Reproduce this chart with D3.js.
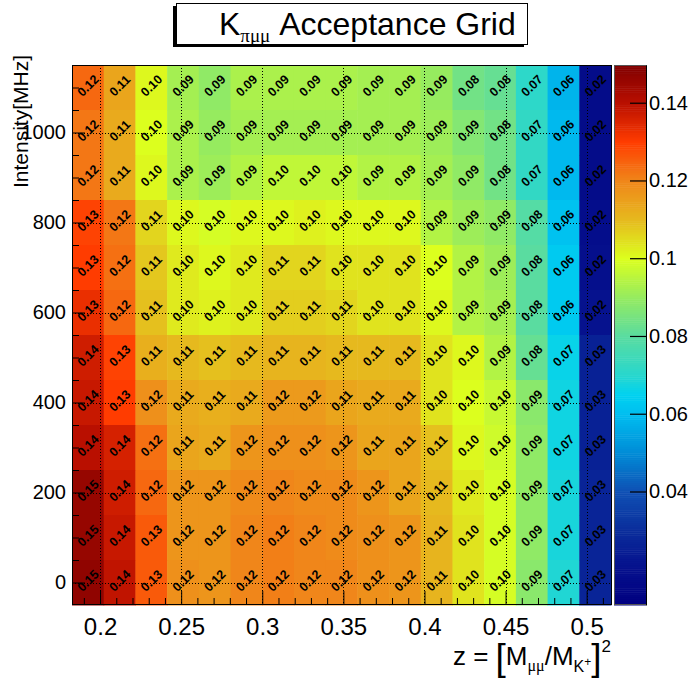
<!DOCTYPE html>
<html>
<head>
<meta charset="utf-8">
<script src="https://cdn.jsdelivr.net/npm/d3@7"></script>
<style>
  body { margin: 0; background: #fff; }
  svg { display: block; }
  text { font-family: "Liberation Sans", Arial, Helvetica, sans-serif; }
</style>
</head>
<body>
<svg id="chart" width="690" height="678"></svg>
<script>
// ---- binning ----
const zRange = [0.1827, 0.5150];          // z = (M_mumu / M_K)^2 axis range
const zBinCount = 17;
const intensityRange = [-50, 1150];       // MHz
const intensityRows = [1100, 1000, 900, 800, 700, 600, 500, 400, 300, 200, 100, 0];
const intensityBinWidth = 100;

// ---- acceptance per intensity row (one value per z bin) ----
const acc1100 = [0.124, 0.114, 0.101, 0.092, 0.089, 0.093, 0.093, 0.093, 0.093, 0.092, 0.092, 0.090, 0.084, 0.082, 0.071, 0.058, 0.018];
const acc1000 = [0.122, 0.113, 0.100, 0.093, 0.090, 0.092, 0.092, 0.092, 0.092, 0.092, 0.092, 0.091, 0.087, 0.084, 0.072, 0.059, 0.018];
const acc900  = [0.122, 0.113, 0.101, 0.093, 0.091, 0.094, 0.096, 0.096, 0.096, 0.094, 0.094, 0.092, 0.089, 0.084, 0.072, 0.059, 0.018];
const acc800  = [0.129, 0.122, 0.106, 0.101, 0.099, 0.101, 0.101, 0.102, 0.101, 0.101, 0.101, 0.094, 0.091, 0.089, 0.079, 0.061, 0.019];
const acc700  = [0.130, 0.123, 0.108, 0.103, 0.101, 0.103, 0.106, 0.106, 0.104, 0.104, 0.104, 0.100, 0.094, 0.091, 0.080, 0.063, 0.020];
const acc600  = [0.133, 0.124, 0.109, 0.103, 0.102, 0.103, 0.107, 0.107, 0.106, 0.104, 0.104, 0.101, 0.094, 0.092, 0.080, 0.063, 0.021];
const acc500  = [0.137, 0.129, 0.112, 0.110, 0.109, 0.110, 0.111, 0.111, 0.110, 0.110, 0.110, 0.104, 0.101, 0.094, 0.082, 0.066, 0.026];
const acc400  = [0.138, 0.130, 0.118, 0.113, 0.112, 0.113, 0.116, 0.116, 0.114, 0.113, 0.113, 0.104, 0.100, 0.097, 0.088, 0.067, 0.026];
const acc300  = [0.140, 0.136, 0.123, 0.114, 0.113, 0.117, 0.118, 0.118, 0.117, 0.114, 0.114, 0.109, 0.101, 0.098, 0.089, 0.067, 0.026];
const acc200  = [0.146, 0.137, 0.124, 0.117, 0.117, 0.119, 0.120, 0.119, 0.119, 0.117, 0.114, 0.110, 0.103, 0.099, 0.089, 0.068, 0.027];
const acc100  = [0.146, 0.138, 0.126, 0.117, 0.117, 0.120, 0.121, 0.120, 0.119, 0.118, 0.117, 0.111, 0.104, 0.099, 0.089, 0.068, 0.027];
const acc0    = [0.147, 0.139, 0.126, 0.118, 0.117, 0.120, 0.121, 0.120, 0.120, 0.118, 0.117, 0.111, 0.104, 0.099, 0.088, 0.069, 0.027];
const acceptanceRows = [acc1100, acc1000, acc900, acc800, acc700, acc600, acc500, acc400, acc300, acc200, acc100, acc0];

// ---- axis ticks ----
const zMajorTicks = [0.2, 0.25, 0.3, 0.35, 0.4, 0.45, 0.5];
const zMinorTicks = [0.19, 0.21, 0.22, 0.23, 0.24, 0.26, 0.27, 0.28, 0.29, 0.31, 0.32, 0.33, 0.34,
                     0.36, 0.37, 0.38, 0.39, 0.41, 0.42, 0.43, 0.44, 0.46, 0.47, 0.48, 0.49, 0.51];
const intensityMajorTicks = [0, 200, 400, 600, 800, 1000];
const intensityMinorTicks = [50, 100, 150, 250, 300, 350, 450, 500, 550, 650, 700, 750,
                             850, 900, 950, 1050, 1100];
const colorTicks = [0.04, 0.06, 0.08, 0.1, 0.12, 0.14];

// ---- palette ----
const colorRange = [0.0108, 0.1497];
const paletteStops  = [0.0108, 0.02, 0.03, 0.04, 0.05, 0.06, 0.065, 0.07, 0.08, 0.09, 0.10, 0.11, 0.12, 0.13, 0.14, 0.1497];
const paletteColors = ["#000080", "#050f8c", "#0a2d9b", "#0f50b4", "#008cd7", "#00bef0", "#00d2f0", "#28d7cd",
                       "#5adca0", "#96eb5f", "#dcff1e", "#e6b91e", "#f0861a", "#ff3c00", "#b90f00", "#800000"];

// ---- layout ----
const frame = { left: 72, right: 611, top: 65, bottom: 605 };
const bar = { left: 614, right: 646 };

const svg = d3.select("#chart");

const x = d3.scaleLinear().domain(zRange).range([frame.left, frame.right]);
const y = d3.scaleLinear().domain(intensityRange).range([frame.bottom, frame.top]);
const color = d3.scaleLinear().domain(paletteStops).range(paletteColors)
  .interpolate(d3.interpolateRgb).clamp(true);
const cbar = d3.scaleLinear().domain(colorRange).range([frame.bottom, frame.top]);

const zStep = (zRange[1] - zRange[0]) / zBinCount;
const cells = [];
acceptanceRows.forEach((row, r) => {
  row.forEach((v, c) => {
    cells.push({
      z0: zRange[0] + c * zStep,
      z1: zRange[0] + (c + 1) * zStep,
      i0: intensityRows[r] - intensityBinWidth / 2,
      i1: intensityRows[r] + intensityBinWidth / 2,
      v
    });
  });
});

// cells
svg.append("g").selectAll("rect").data(cells).join("rect")
  .attr("x", d => x(d.z0))
  .attr("y", d => y(d.i1))
  .attr("width", d => x(d.z1) - x(d.z0) + 0.5)
  .attr("height", d => y(d.i0) - y(d.i1) + 0.5)
  .attr("fill", d => color(d.v));

// cell value labels, rotated 45 degrees
const fmt = d3.format(".2f");
svg.append("g").selectAll("text").data(cells).join("text")
  .attr("transform", d => `translate(${x((d.z0 + d.z1) / 2)},${y((d.i0 + d.i1) / 2) - 2}) rotate(-45)`)
  .attr("text-anchor", "middle")
  .attr("dy", "0.36em")
  .attr("font-size", 12.5)
  .attr("font-weight", "bold")
  .attr("fill", "#000")
  .text(d => fmt(d.v));

// dotted grid at major ticks
const grid = svg.append("g").attr("stroke", "#000").attr("stroke-width", 1)
  .attr("stroke-dasharray", "1,2");
grid.selectAll("line.gx").data(zMajorTicks).join("line")
  .attr("x1", d => Math.round(x(d)) + 0.5).attr("x2", d => Math.round(x(d)) + 0.5)
  .attr("y1", frame.top).attr("y2", frame.bottom);
grid.selectAll("line.gy").data(intensityMajorTicks).join("line")
  .attr("y1", d => Math.round(y(d)) + 0.5).attr("y2", d => Math.round(y(d)) + 0.5)
  .attr("x1", frame.left).attr("x2", frame.right);

// frame
svg.append("rect")
  .attr("x", frame.left + 0.5).attr("y", frame.top + 0.5)
  .attr("width", frame.right - frame.left).attr("height", frame.bottom - frame.top - 1)
  .attr("fill", "none").attr("stroke", "#000").attr("stroke-width", 1);

// x axis (ticks point into the frame)
const xAxis = svg.append("g").attr("transform", `translate(0,${frame.bottom})`)
  .call(d3.axisBottom(x).tickValues(zMajorTicks).tickFormat(d3.format("")).tickSizeInner(-14).tickSizeOuter(0).tickPadding(13));
xAxis.select(".domain").remove();
xAxis.selectAll("text").attr("font-size", 24).attr("font-family", "Liberation Sans, Arial, sans-serif").attr("fill", "#000");
xAxis.selectAll("line").attr("stroke", "#000");
svg.append("g").attr("transform", `translate(0,${frame.bottom})`)
  .call(d3.axisBottom(x).tickValues(zMinorTicks).tickFormat("").tickSizeInner(-7).tickSizeOuter(0))
  .call(g => g.select(".domain").remove())
  .selectAll("line").attr("stroke", "#000");

// y axis
const yAxis = svg.append("g").attr("transform", `translate(${frame.left},0)`)
  .call(d3.axisLeft(y).tickValues(intensityMajorTicks).tickFormat(d3.format("d")).tickSizeInner(-13).tickSizeOuter(0).tickPadding(6));
yAxis.select(".domain").remove();
yAxis.selectAll("text").attr("font-size", 20).attr("font-family", "Liberation Sans, Arial, sans-serif").attr("fill", "#000");
yAxis.selectAll("line").attr("stroke", "#000");
svg.append("g").attr("transform", `translate(${frame.left},0)`)
  .call(d3.axisLeft(y).tickValues(intensityMinorTicks).tickFormat("").tickSizeInner(-7).tickSizeOuter(0))
  .call(g => g.select(".domain").remove())
  .selectAll("line").attr("stroke", "#000");

// y title
svg.append("text")
  .attr("transform", `translate(28,55) rotate(-90)`)
  .attr("text-anchor", "end")
  .attr("font-size", 21)
  .attr("fill", "#000")
  .text("Intensity[MHz]");

// x title: z = [M_mumu / M_K+]^2
const xt = svg.append("text")
  .attr("x", frame.right).attr("y", 665)
  .attr("text-anchor", "end")
  .attr("font-size", 26)
  .attr("fill", "#000");
xt.append("tspan").text("z = ");
xt.append("tspan").attr("font-size", 37).attr("font-weight", 300).attr("dy", 5).text("[");
xt.append("tspan").attr("dy", -5).text("M");
xt.append("tspan").attr("font-size", 16).attr("dy", 6).attr("font-family", "Liberation Serif, serif").text("μμ");
xt.append("tspan").attr("dy", -6).text("/M");
xt.append("tspan").attr("font-size", 16).attr("dy", 7).text("K");
xt.append("tspan").attr("font-size", 12).attr("dy", -6).text("+");
xt.append("tspan").attr("font-size", 37).attr("font-weight", 300).attr("dy", 4).text("]");
xt.append("tspan").attr("font-size", 17).attr("dy", -18).text("2");

// colour bar
const barSteps = d3.range(0, 256).map(i => colorRange[0] + (i + 0.5) * (colorRange[1] - colorRange[0]) / 256);
const barStep = (colorRange[1] - colorRange[0]) / 256;
svg.append("g").selectAll("rect").data(barSteps).join("rect")
  .attr("x", bar.left)
  .attr("width", bar.right - bar.left)
  .attr("y", d => cbar(d + barStep / 2))
  .attr("height", d => cbar(d - barStep / 2) - cbar(d + barStep / 2) + 0.5)
  .attr("fill", d => color(d));
svg.append("rect")
  .attr("x", bar.left + 0.5).attr("y", frame.top + 0.5)
  .attr("width", bar.right - bar.left).attr("height", frame.bottom - frame.top - 1)
  .attr("fill", "none").attr("stroke", "#555").attr("stroke-width", 1);
const cAxis = svg.append("g").attr("transform", `translate(${bar.right},0)`)
  .call(d3.axisRight(cbar).tickValues(colorTicks).tickFormat(d3.format("")).tickSizeInner(-16).tickSizeOuter(0).tickPadding(3));
cAxis.select(".domain").attr("stroke", "#000");
cAxis.selectAll("text").attr("font-size", 20).attr("font-family", "Liberation Sans, Arial, sans-serif").attr("fill", "#000");
cAxis.selectAll("line").attr("stroke", "#000").attr("stroke-width", 1.2);

// title box with shadow
const tb = { left: 176, right: 527, top: 3, bottom: 44 };
svg.append("rect")
  .attr("x", tb.left - 3).attr("y", tb.top + 3)
  .attr("width", tb.right - tb.left).attr("height", tb.bottom - tb.top)
  .attr("fill", "#000");
svg.append("rect")
  .attr("x", tb.left + 0.5).attr("y", tb.top + 0.5)
  .attr("width", tb.right - tb.left).attr("height", tb.bottom - tb.top)
  .attr("fill", "#fff").attr("stroke", "#000").attr("stroke-width", 1);
const tt = svg.append("text")
  .attr("x", 219).attr("y", 35)
  .attr("font-size", 32)
  .attr("fill", "#000");
tt.append("tspan").text("K");
tt.append("tspan").attr("font-size", 19).attr("dy", 7).attr("font-family", "Liberation Serif, serif").text("πμμ");
tt.append("tspan").attr("dy", -7).text(" Acceptance Grid");
</script>
</body>
</html>
